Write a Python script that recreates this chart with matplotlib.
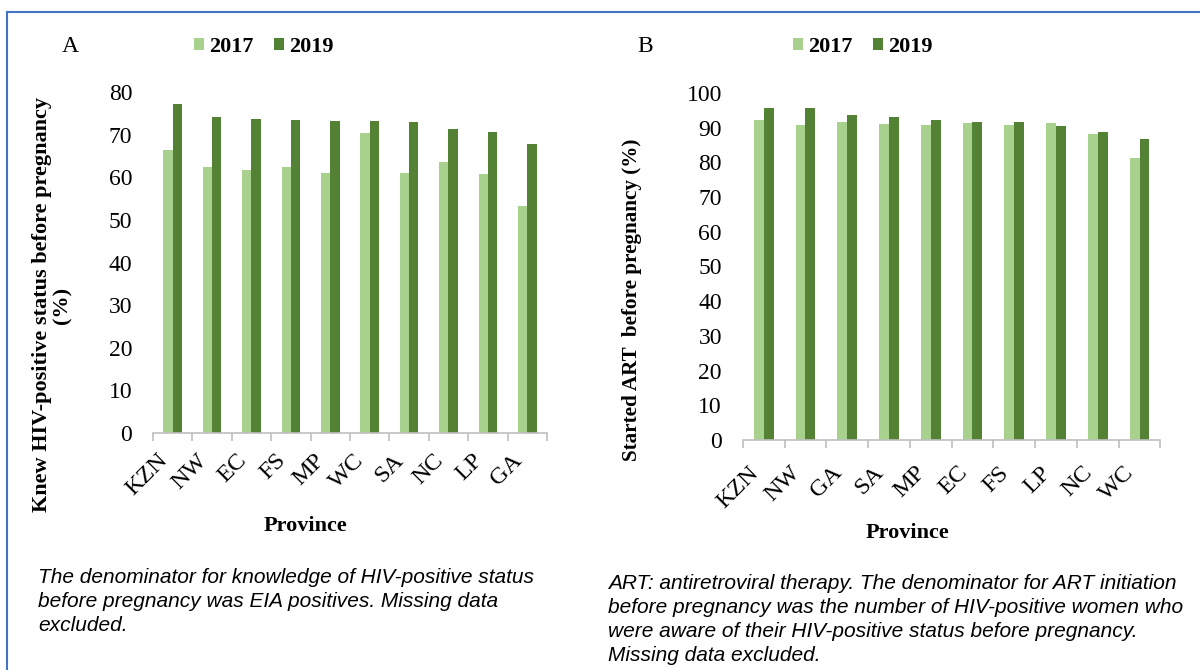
import numpy as np
import matplotlib
matplotlib.use("Agg")
import matplotlib.pyplot as plt
from matplotlib.lines import Line2D
from matplotlib.transforms import ScaledTranslation

plt.rcParams['font.family'] = ['Liberation Serif', 'DejaVu Serif']

# Panel A: knew HIV-positive status before pregnancy
prov_a = ['KZN', 'NW', 'EC', 'FS', 'MP', 'WC', 'SA', 'NC', 'LP', 'GA']
a_2017 = [66.4, 62.5, 61.6, 62.4, 61.0, 70.3, 61.0, 63.5, 60.7, 53.3]
a_2019 = [77.2, 74.1, 73.6, 73.5, 73.3, 73.1, 73.0, 71.4, 70.5, 67.9]

# Panel B: started ART before pregnancy
prov_b = ['KZN', 'NW', 'GA', 'SA', 'MP', 'EC', 'FS', 'LP', 'NC', 'WC']
b_2017 = [92.2, 90.8, 91.6, 91.0, 90.7, 91.4, 90.8, 91.4, 88.3, 81.3]
b_2019 = [95.6, 95.6, 93.7, 93.2, 92.2, 91.6, 91.6, 90.4, 88.8, 86.7]

c17 = '#A9D18E'
c19 = '#548235'

fig = plt.figure(figsize=(12, 6.7), dpi=100)

ax_a = fig.add_axes([0.1275, 0.3537, 0.3283, 0.509])
ax_b = fig.add_axes([0.619, 0.3433, 0.348, 0.518])


def draw_panel(ax, provs, v17, v19, ymax, xpad):
    x = np.arange(len(provs))
    w = 0.237
    ax.bar(x - w / 2, v17, width=w, color=c17, label='2017')
    ax.bar(x + w / 2, v19, width=w, color=c19, label='2019')
    ax.set_xlim(-0.5, len(provs) - 0.5)
    ax.set_ylim(0, ymax)
    ax.set_yticks(np.arange(0, ymax + 1, 10))
    ax.set_xticks(x)
    ax.set_xticklabels(provs, rotation=45, ha='right', rotation_mode='anchor')
    ax.set_xticks(np.arange(-0.5, len(provs)), minor=True)
    ax.tick_params(axis='x', which='major', length=0, labelsize=17.5, pad=xpad)
    ax.tick_params(axis='x', which='minor', length=6, color='#BFBFBF', width=1.2)
    ax.tick_params(axis='y', length=0, labelsize=17, pad=15)
    shift = ScaledTranslation(-16 / 100, 0, fig.dpi_scale_trans)
    for lab in ax.get_xticklabels():
        lab.set_transform(lab.get_transform() + shift)
    for s in ['top', 'right', 'left']:
        ax.spines[s].set_visible(False)
    ax.spines['bottom'].set_color('#BFBFBF')
    ax.spines['bottom'].set_linewidth(1.2)


draw_panel(ax_a, prov_a, a_2017, a_2019, 80, 12)
draw_panel(ax_b, prov_b, b_2017, b_2019, 100, 16)

for ax, cx in [(ax_a, 264 / 1200), (ax_b, 863 / 1200)]:
    ax.legend(loc='center', bbox_to_anchor=(cx, 1 - 47 / 670), bbox_transform=fig.transFigure,
              ncol=2, frameon=False, handlelength=0.45, handleheight=0.45, handletextpad=0.25,
              columnspacing=0.9, prop={'weight': 'bold', 'size': 16})

fig.text(70 / 1200, 1 - 46 / 670, 'A', fontsize=17, ha='center', va='center')
fig.text(645 / 1200, 1 - 46 / 670, 'B', fontsize=17, ha='center', va='center')

fig.text(52 / 1200, 1 - 305 / 670, 'Knew HIV-positive status before pregnancy\n(%)',
         rotation=90, ha='center', va='center', fontsize=16, fontweight='bold', linespacing=1.0)
fig.text(632 / 1200, 1 - 300 / 670, 'Started ART  before pregnancy (%)',
         rotation=90, ha='center', va='center', fontsize=15.2, fontweight='bold')

fig.text(305 / 1200, 1 - 526 / 670, 'Province', ha='center', va='center', fontsize=16, fontweight='bold')
fig.text(907 / 1200, 1 - 533 / 670, 'Province', ha='center', va='center', fontsize=16, fontweight='bold')

cap_a = ('The denominator for knowledge of HIV-positive status\n'
         'before pregnancy was EIA positives. Missing data\n'
         'excluded.')
cap_b = ('ART: antiretroviral therapy. The denominator for ART initiation\n'
         'before pregnancy was the number of HIV-positive women who\n'
         'were aware of their HIV-positive status before pregnancy.\n'
         'Missing data excluded.')
fig.text(38 / 1200, 1 - 568 / 670, cap_a, ha='left', va='top', fontsize=15,
         style='italic', family='Liberation Sans', linespacing=1.32)
fig.text(608 / 1200, 1 - 574 / 670, cap_b, ha='left', va='top', fontsize=15,
         style='italic', family='Liberation Sans', linespacing=1.33)

# blue frame lines
fig.add_artist(Line2D([7 / 1200, 1], [1 - 12 / 670, 1 - 12 / 670], color='#4472C4', lw=1.5,
                      transform=fig.transFigure))
fig.add_artist(Line2D([7 / 1200, 7 / 1200], [1 - 12 / 670, 0], color='#4472C4', lw=1.5,
                      transform=fig.transFigure))

fig.savefig('out.png', dpi=100)
